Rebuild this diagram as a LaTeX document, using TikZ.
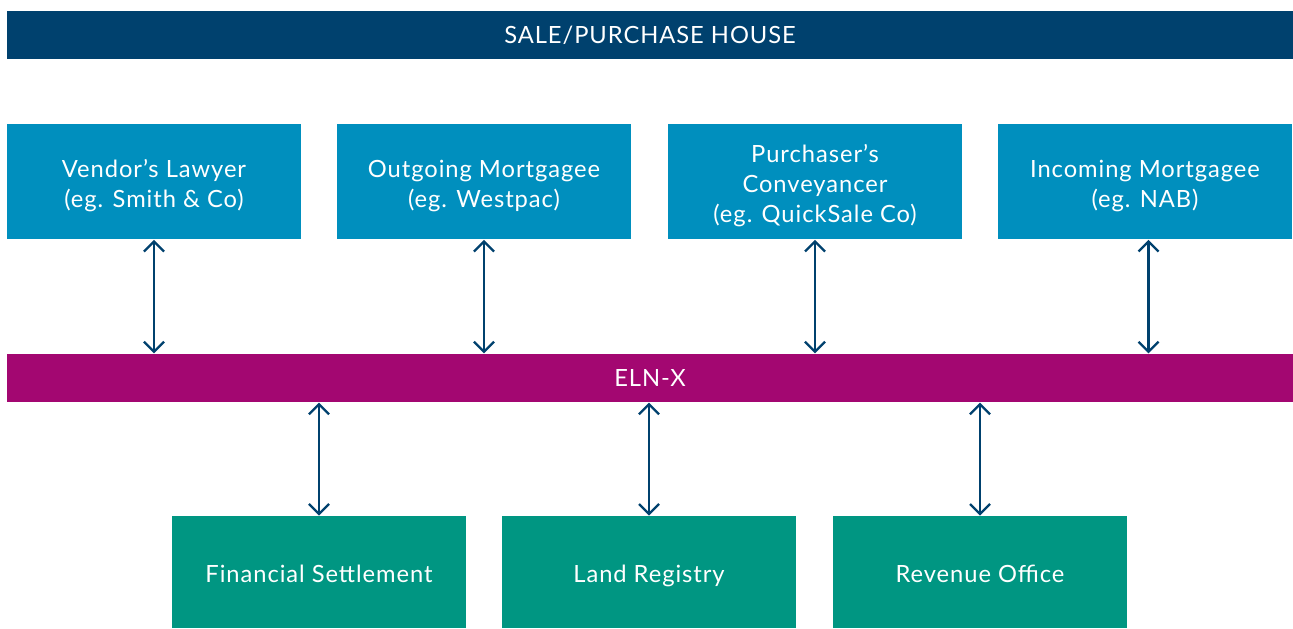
\documentclass[tikz,border=0pt]{standalone}
\usepackage{fontspec}
\setmainfont{Lato}[LetterSpace=4]
\usepackage{xcolor}
\usetikzlibrary{arrows.meta,positioning}

\definecolor{housenavy}{HTML}{00416E}
\definecolor{partyblue}{HTML}{008FBE}
\definecolor{elnpurple}{HTML}{A30771}
\definecolor{agencygreen}{HTML}{009682}

% strut that pushes the first line down a little
\newcommand{\firststrut}{\rule{0pt}{15pt}}

\begin{document}
\begin{tikzpicture}[
  x=0.02cm, y=-0.02cm,
  every node/.style={font=\fontsize{13.5}{17}\selectfont, text=white},
  linkarrow/.style={{Straight Barb[length=2mm,width=4mm]}-{Straight Barb[length=2mm,width=4mm]}, line width=1.35pt, draw=housenavy},
  bar/.style={
    fill, inner sep=0pt,
    minimum width=25.72cm,
    minimum height=0.97cm
  },
  box/.style={
    fill, inner sep=0pt,
    align=center,
    minimum width=5.88cm,
    execute at begin node={\rule{0pt}{15pt}},
    execute at end node={\rule[-2.6pt]{0pt}{0pt}}
  },
  partybox/.style={box, fill=partyblue, minimum height=2.32cm},
  agencybox/.style={box, fill=agencygreen, minimum height=2.24cm}
]
\useasboundingbox (0,0) rectangle (1293,628);

\node[bar, fill=housenavy] (house) at (650,35) {SALE/PURCHASE HOUSE};

\node[partybox] (vendor) at (154,181.5) {\firststrut Vendor’s Lawyer\\(eg. Smith \& Co)};
\node[partybox] (outgoing) at (484,181.5) {\firststrut Outgoing Mortgagee\\(eg. Westpac)};
\node[partybox] (purchaser) at (815,181.5) {\firststrut Purchaser’s\\Conveyancer\\(eg. QuickSale Co)};
\node[partybox] (incoming) at (1145,181.5) {\firststrut Incoming Mortgagee\\(eg. NAB)};

\node[bar, fill=elnpurple] (eln) at (650,378) {ELN-X};

\node[agencybox] (financial) at (319,572) {Financial Settlement};
\node[agencybox] (land) at (649,572) {Land Registry};
\node[agencybox] (revenue) at (980,572) {Revenue Office};

\draw[linkarrow] (vendor.south) -- (vendor.south |- eln.north);
\draw[linkarrow] (outgoing.south) -- (outgoing.south |- eln.north);
\draw[linkarrow] (purchaser.south) -- (purchaser.south |- eln.north);
\draw[linkarrow] ([xshift=2]incoming.south) -- ([xshift=2]incoming.south |- eln.north);

\draw[linkarrow] (financial.north |- eln.south) -- (financial.north);
\draw[linkarrow] (land.north |- eln.south) -- (land.north);
\draw[linkarrow] (revenue.north |- eln.south) -- (revenue.north);

\end{tikzpicture}
\end{document}
